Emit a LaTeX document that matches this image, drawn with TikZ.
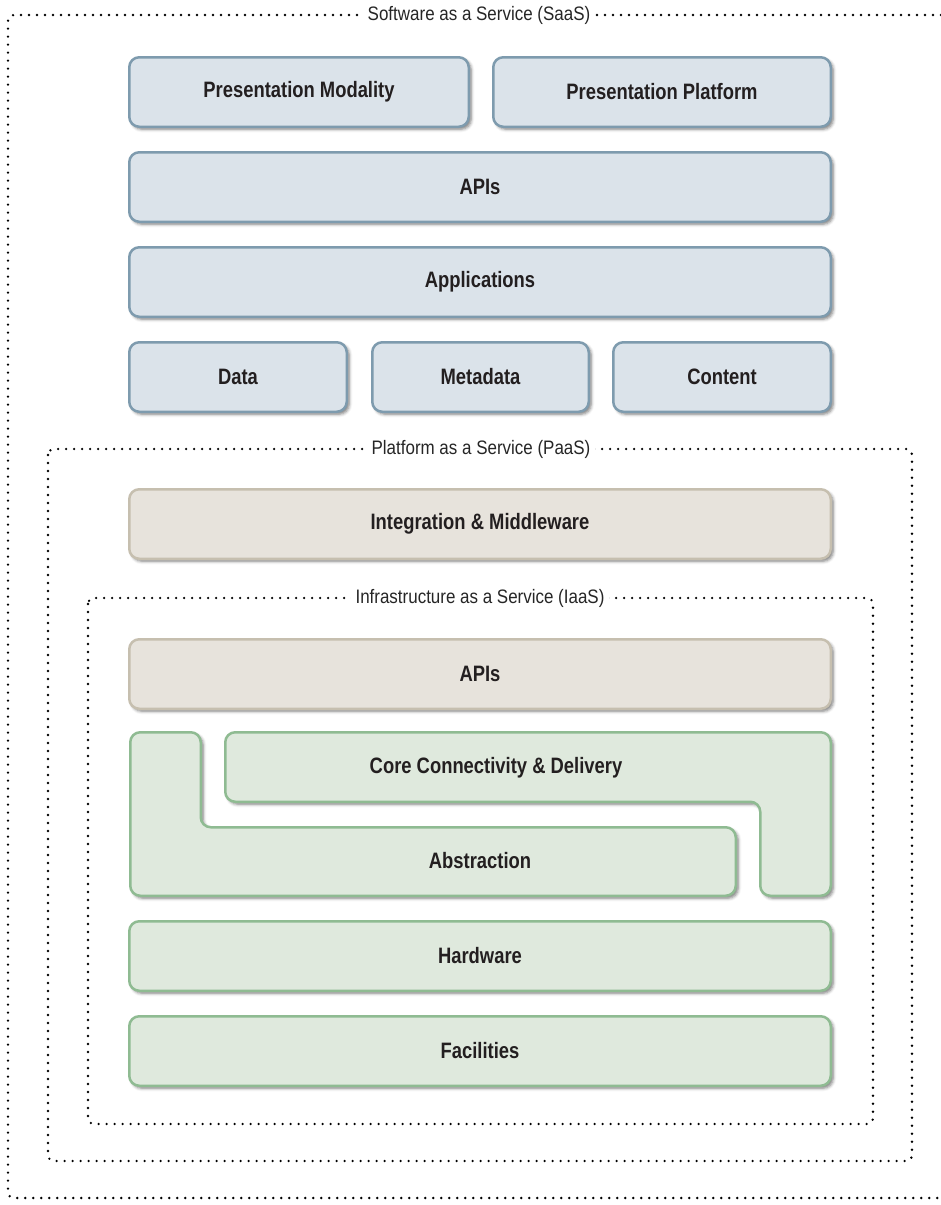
\documentclass[tikz,border=0pt]{standalone}
\usepackage{fontspec}
\setmainfont{Liberation Sans}
\newfontfamily\boxfont{Liberation Sans}[FakeStretch=0.825]
\newfontfamily\tagfont{Liberation Sans}[FakeStretch=0.87]
\usetikzlibrary{shadows.blur}

\definecolor{blueFill}{HTML}{DBE3EA}
\definecolor{blueLine}{HTML}{7E9BAE}
\definecolor{sandFill}{HTML}{E7E3DC}
\definecolor{sandLine}{HTML}{C6BFAF}
\definecolor{greenFill}{HTML}{DFE9DD}
\definecolor{greenLine}{HTML}{8FBB92}
\definecolor{inkText}{HTML}{231F20}

\tikzset{
  layer/.style={rounded corners=10pt, line width=2.5pt,
    blur shadow={shadow xshift=2.5pt, shadow yshift=-2.5pt,
                 shadow blur radius=3pt, shadow opacity=50},
    text=inkText, font=\boxfont\bfseries\fontsize{22.3}{25}\selectfont,
    inner sep=0pt},
  bluebox/.style={layer, draw=blueLine, fill=blueFill},
  sandbox/.style={layer, draw=sandLine, fill=sandFill},
  greenbox/.style={layer, draw=greenLine, fill=greenFill},
  labeltext/.style={text=inkText, font=\boxfont\bfseries\fontsize{22.3}{25}\selectfont},
  tier/.style={line width=2.6pt, dash pattern=on 0pt off 8pt, line cap=round,
    rounded corners=6pt},
  tiertag/.style={fill=white, inner sep=5pt, text=black!85,
    font=\tagfont\fontsize{19.5}{22}\selectfont},
  wide/.style={minimum width=701.5pt, minimum height=69.5pt}
}

\begin{document}
\begin{tikzpicture}[x=1pt, y=-1pt]
\useasboundingbox (0,0) rectangle (941,1205);

% service tiers (dotted outlines)
\draw[tier] (941,15) -- (8,15) -- (8,1198) -- (941,1198);
\node[tiertag] (saas) at (479,15) {Software as a Service (SaaS)};
\draw[tier] (48,449) rectangle (912,1161);
\node[tiertag] (paas) at (481,449) {Platform as a Service (PaaS)};
\draw[tier] (88,598) rectangle (873,1124);
\node[tiertag] (iaas) at (480,598) {Infrastructure as a Service (IaaS)};

% software layers
\node[bluebox, minimum width=339.5pt, minimum height=69.5pt] (pmod) at (299,92) {Presentation Modality};
\node[bluebox, minimum width=337.5pt, minimum height=69.5pt] (pplat) at (662,92) {Presentation Platform};
\node[bluebox, wide] (sapis) at (480,187) {APIs};
\node[bluebox, wide] (apps) at (480,282) {Applications};
\node[bluebox, minimum width=217.5pt, minimum height=69.5pt] (data) at (238,377) {Data};
\node[bluebox, minimum width=216.5pt, minimum height=69.5pt] (meta) at (480.5,377) {Metadata};
\node[bluebox, minimum width=217.5pt, minimum height=69.5pt] (content) at (722,377) {Content};

% platform layer
\node[sandbox, wide] (integ) at (480,524) {Integration \& Middleware};

% infrastructure layers
\node[sandbox, wide] (iapis) at (480,674) {APIs};
\draw[greenbox] (130.25,732.25) -- (200.75,732.25) -- (200.75,827.25) -- (735.75,827.25)
  -- (735.75,895.75) -- (130.25,895.75) -- cycle;
\node[labeltext] (abst) at (480,861) {Abstraction};
\draw[greenbox] (225.25,732.25) -- (830.75,732.25) -- (830.75,895.75) -- (760.25,895.75)
  -- (760.25,801.75) -- (225.25,801.75) -- cycle;
\node[labeltext] (core) at (496,768) {Core Connectivity \& Delivery};
\node[greenbox, wide] (hw) at (480,956) {Hardware};
\node[greenbox, wide] (fac) at (480,1051) {Facilities};
\end{tikzpicture}
\end{document}
